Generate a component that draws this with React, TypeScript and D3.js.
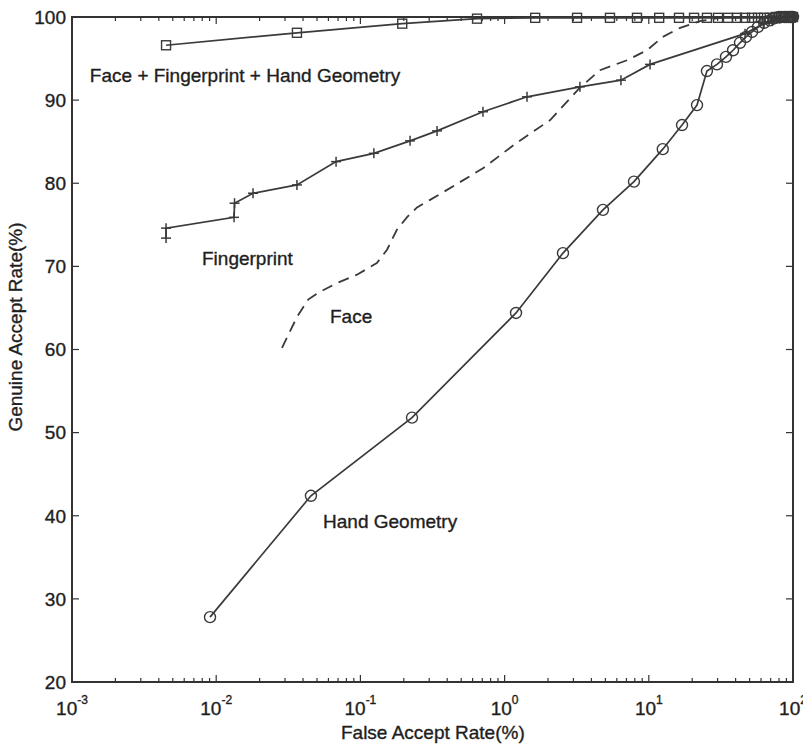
import React, { useEffect, useRef } from 'react';
import * as d3 from 'd3';

// Face + Fingerprint + Hand Geometry (squares)
const fusionFar = [0.00449, 0.0363, 0.195, 0.644, 1.63, 3.18, 5.38, 8.28, 11.8, 16.2, 20.6, 25.3, 30.2, 35.4, 40.9, 46.5, 52.0, 57.2, 63, 69, 76, 80, 82.6, 86, 89, 92, 95, 97.5, 100];
const fusionGar = [96.6, 98.1, 99.2, 99.8, 99.9, 99.9, 99.9, 99.9, 99.9, 99.9, 99.9, 99.9, 99.9, 99.9, 99.9, 99.9, 99.9, 99.9, 99.9, 99.9, 100, 100, 100, 100, 100, 100, 100, 100, 100];

// Fingerprint (plus)
const fpFar = [0.00449, 0.00449, 0.0133, 0.0134, 0.018, 0.0363, 0.0678, 0.124, 0.221, 0.34, 0.708, 1.43, 3.33, 6.41, 10.2, 46.5, 63, 72, 81, 90, 100];
const fpGar = [73.4, 74.6, 75.9, 77.6, 78.8, 79.8, 82.6, 83.6, 85.1, 86.3, 88.6, 90.4, 91.6, 92.4, 94.3, 98.0, 99.2, 99.5, 99.8, 100, 100];

// Face (dashed, no markers)
const faceFar = [0.0286, 0.0363, 0.0434, 0.0508, 0.0687, 0.0947, 0.13, 0.153, 0.179, 0.21, 0.247, 0.304, 0.399, 0.708, 1.22, 2.07, 3.33, 4.59, 7.06, 9.72, 12.5, 16.5, 22.6, 31, 60, 100];
const faceGar = [60.2, 63.9, 66.0, 66.8, 68.0, 69.0, 70.4, 72.0, 74.4, 75.9, 77.1, 78.0, 79.2, 81.8, 84.9, 87.6, 91.5, 93.6, 94.8, 96.0, 97.6, 98.7, 99.5, 99.9, 100, 100];

// Hand Geometry (circles)
const handFar = [0.00906, 0.0454, 0.228, 1.2, 2.54, 4.81, 7.89, 12.5, 17.0, 21.6, 25.3, 29.7, 34.3, 38.4, 42.9, 47.2, 52.0, 57.2, 63, 69, 73, 76, 80, 83, 87, 90, 93, 96, 98, 100];
const handGar = [27.8, 42.4, 51.8, 64.4, 71.6, 76.8, 80.2, 84.1, 87.0, 89.4, 93.5, 94.3, 95.2, 96.0, 96.9, 97.6, 98.2, 98.8, 99.3, 99.6, 99.8, 99.9, 100, 100, 100, 100, 100, 100, 100, 100];

const xMajor = [1e-3, 1e-2, 1e-1, 1, 10, 100];
const xExponents = ['-3', '-2', '-1', '0', '1', '2'];
const yTicks = [20, 30, 40, 50, 60, 70, 80, 90, 100];

const labelText = ['Face + Fingerprint + Hand Geometry', 'Fingerprint', 'Face', 'Hand Geometry'];
const labelFar = [0.00133, 0.00797, 0.0615, 0.0551];
const labelGar = [92.2, 70.2, 63.2, 38.5];

const W = 803;
const H = 747;

export default function App() {
  const ref = useRef<SVGSVGElement>(null);

  useEffect(() => {
    const margin = { top: 17, right: 10, bottom: 65, left: 72 };
    const width = W - margin.left - margin.right;
    const height = H - margin.top - margin.bottom;
    const ink = '#333';
    const font = '"Liberation Sans", Arial, sans-serif';
    const textFill = '#1e1e1e';

    const svg = d3.select(ref.current);
    svg.selectAll('*').remove();
    const chart = svg.append('g').attr('transform', `translate(${margin.left},${margin.top})`);

    const x = d3.scaleLog().domain([1e-3, 100]).range([0, width]);
    const y = d3.scaleLinear().domain([20, 100]).range([height, 0]);

    const minor: number[] = [];
    for (let e = -3; e < 2; e++) {
      for (let k = 2; k <= 9; k++) minor.push(k * Math.pow(10, e));
    }

    // ticks (inward) on all four sides
    const tickG = chart.append('g').attr('stroke', ink).attr('stroke-width', 1.2);
    minor.forEach((v) => {
      tickG.append('line').attr('x1', x(v)).attr('x2', x(v)).attr('y1', height).attr('y2', height - 4);
      tickG.append('line').attr('x1', x(v)).attr('x2', x(v)).attr('y1', 0).attr('y2', 4);
    });
    xMajor.forEach((v) => {
      tickG.append('line').attr('x1', x(v)).attr('x2', x(v)).attr('y1', height).attr('y2', height - 7);
      tickG.append('line').attr('x1', x(v)).attr('x2', x(v)).attr('y1', 0).attr('y2', 7);
    });
    yTicks.forEach((v) => {
      tickG.append('line').attr('x1', 0).attr('x2', 7).attr('y1', y(v)).attr('y2', y(v));
      tickG.append('line').attr('x1', width).attr('x2', width - 7).attr('y1', y(v)).attr('y2', y(v));
    });

    // frame
    chart.append('rect')
      .attr('width', width)
      .attr('height', height)
      .attr('fill', 'none')
      .attr('stroke', ink)
      .attr('stroke-width', 2);

    const styleText = (sel: any) => sel
      .style('font-family', font)
      .style('font-size', '19px')
      .style('fill', textFill)
      .style('stroke', textFill)
      .style('stroke-width', 0.35);

    // y tick labels
    chart.selectAll('.ylab')
      .data(yTicks)
      .enter().append('text')
      .attr('class', 'ylab')
      .attr('x', -6)
      .attr('y', (d) => y(d))
      .attr('dy', '0.36em')
      .attr('text-anchor', 'end')
      .call(styleText)
      .text((d) => d);

    // x tick labels 10^n
    xMajor.forEach((v, i) => {
      const t = chart.append('text')
        .attr('x', x(v))
        .attr('y', height + 33)
        .attr('text-anchor', 'middle')
        .call(styleText);
      t.append('tspan').text('10');
      t.append('tspan').attr('dy', -11).style('font-size', '12px').text(xExponents[i]);
    });

    // axis titles
    chart.append('text')
      .attr('x', x(0.318))
      .attr('y', height + 57)
      .attr('text-anchor', 'middle')
      .call(styleText)
      .text('False Accept Rate(%)');

    chart.append('text')
      .attr('transform', `translate(${-50},${y(62.7)}) rotate(-90)`)
      .attr('text-anchor', 'middle')
      .call(styleText)
      .text('Genuine Accept Rate(%)');

    const line = d3.line<[number, number]>()
      .curve(d3.curveLinear)
      .x((d) => x(d[0]))
      .y((d) => y(d[1]));

    const zip = (a: number[], b: number[]) => a.map((v, i) => [v, b[i]] as [number, number]);
    const fusion = zip(fusionFar, fusionGar);
    const fp = zip(fpFar, fpGar);
    const face = zip(faceFar, faceGar);
    const hand = zip(handFar, handGar);

    const lineColor = '#3a3a3a';

    chart.append('path').datum(face)
      .attr('fill', 'none').attr('stroke', lineColor).attr('stroke-width', 1.8)
      .attr('stroke-dasharray', '11,7')
      .attr('d', line);

    [fusion, fp, hand].forEach((s) => {
      chart.append('path').datum(s)
        .attr('fill', 'none').attr('stroke', lineColor).attr('stroke-width', 1.7)
        .attr('d', line);
    });

    // square markers
    chart.selectAll('.sq')
      .data(fusion)
      .enter().append('rect')
      .attr('class', 'sq')
      .attr('x', (d) => x(d[0]) - 4.5)
      .attr('y', (d) => y(d[1]) - 4.5)
      .attr('width', 9)
      .attr('height', 9)
      .attr('fill', 'none')
      .attr('stroke', lineColor)
      .attr('stroke-width', 1.4);

    // plus markers
    const plus = chart.selectAll('.pl')
      .data(fp)
      .enter().append('g')
      .attr('class', 'pl')
      .attr('transform', (d) => `translate(${x(d[0])},${y(d[1])})`)
      .attr('stroke', lineColor)
      .attr('stroke-width', 1.5);
    plus.append('line').attr('x1', -5).attr('x2', 5);
    plus.append('line').attr('y1', -5).attr('y2', 5);

    // circle markers
    chart.selectAll('.ci')
      .data(hand)
      .enter().append('circle')
      .attr('class', 'ci')
      .attr('cx', (d) => x(d[0]))
      .attr('cy', (d) => y(d[1]))
      .attr('r', 5.5)
      .attr('fill', 'none')
      .attr('stroke', lineColor)
      .attr('stroke-width', 1.4);

    // curve labels
    chart.selectAll('.lbl')
      .data(labelText)
      .enter().append('text')
      .attr('class', 'lbl')
      .attr('x', (d, i) => x(labelFar[i]))
      .attr('y', (d, i) => y(labelGar[i]))
      .call(styleText)
      .text((d) => d);
  }, []);

  return (
    <svg
      ref={ref}
      width={W}
      height={H}
      style={{ position: 'absolute', left: 0, top: 0, background: '#fff' }}
    />
  );
}
